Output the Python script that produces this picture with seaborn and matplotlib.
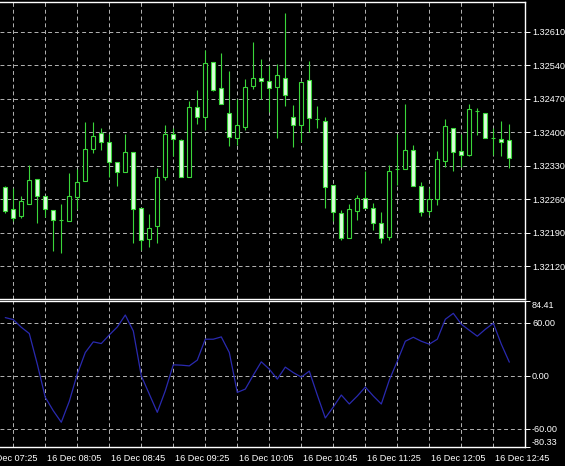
import numpy as np
import pandas as pd
import matplotlib
matplotlib.use('Agg')
import matplotlib.pyplot as plt
import matplotlib.transforms as mtransforms
import seaborn as sns

# M5 bars, 16 Dec 07:40 .. 12:55
bar_times = ['07:40', '07:45', '07:50', '07:55', '08:00', '08:05', '08:10', '08:15', '08:20', '08:25',
             '08:30', '08:35', '08:40', '08:45', '08:50', '08:55', '09:00', '09:05', '09:10', '09:15',
             '09:20', '09:25', '09:30', '09:35', '09:40', '09:45', '09:50', '09:55', '10:00', '10:05',
             '10:10', '10:15', '10:20', '10:25', '10:30', '10:35', '10:40', '10:45', '10:50', '10:55',
             '11:00', '11:05', '11:10', '11:15', '11:20', '11:25', '11:30', '11:35', '11:40', '11:45',
             '11:50', '11:55', '12:00', '12:05', '12:10', '12:15', '12:20', '12:25', '12:30', '12:35',
             '12:40', '12:45', '12:50', '12:55']

open_ = [1.32285, 1.32239, 1.32226, 1.32251, 1.32303, 1.32268, 1.32237, 1.32217, 1.32215, 1.32265,
         1.32299, 1.32365, 1.32399, 1.32380, 1.32337, 1.32317, 1.32358, 1.32241, 1.32178, 1.32205,
         1.32307, 1.32397, 1.32383, 1.32307, 1.32452, 1.32431, 1.32547, 1.32493, 1.32441, 1.32388,
         1.32411, 1.32497, 1.32514, 1.32508, 1.32495, 1.32514, 1.32432, 1.32415, 1.32510, 1.32428,
         1.32423, 1.32290, 1.32231, 1.32180, 1.32236, 1.32262, 1.32241, 1.32210, 1.32182, 1.32323,
         1.32324, 1.32364, 1.32288, 1.32236, 1.32260, 1.32340, 1.32410, 1.32362, 1.32352, 1.32445,
         1.32441, 1.32388, 1.32387, 1.32383]
high = [1.32288, 1.32283, 1.32268, 1.32331, 1.32303, 1.32268, 1.32237, 1.32250, 1.32316, 1.32324,
        1.32422, 1.32422, 1.32408, 1.32396, 1.32337, 1.32396, 1.32359, 1.32241, 1.32230, 1.32326,
        1.32416, 1.32410, 1.32385, 1.32465, 1.32489, 1.32571, 1.32547, 1.32566, 1.32529, 1.32470,
        1.32512, 1.32588, 1.32554, 1.32540, 1.32542, 1.32648, 1.32456, 1.32506, 1.32548, 1.32454,
        1.32431, 1.32290, 1.32237, 1.32250, 1.32269, 1.32319, 1.32253, 1.32234, 1.32331, 1.32396,
        1.32459, 1.32373, 1.32297, 1.32283, 1.32361, 1.32427, 1.32410, 1.32396, 1.32459, 1.32450,
        1.32441, 1.32408, 1.32423, 1.32418]
low = [1.32232, 1.32215, 1.32221, 1.32250, 1.32210, 1.32224, 1.32152, 1.32148, 1.32215, 1.32240,
       1.32299, 1.32356, 1.32363, 1.32306, 1.32288, 1.32317, 1.32169, 1.32154, 1.32161, 1.32168,
       1.32300, 1.32350, 1.32306, 1.32307, 1.32418, 1.32404, 1.32486, 1.32460, 1.32371, 1.32373,
       1.32404, 1.32491, 1.32470, 1.32442, 1.32389, 1.32454, 1.32369, 1.32379, 1.32401, 1.32410,
       1.32243, 1.32215, 1.32176, 1.32180, 1.32217, 1.32243, 1.32196, 1.32168, 1.32176, 1.32290,
       1.32324, 1.32288, 1.32226, 1.32227, 1.32248, 1.32328, 1.32319, 1.32328, 1.32350, 1.32395,
       1.32389, 1.32352, 1.32351, 1.32326]
close = [1.32236, 1.32222, 1.32256, 1.32301, 1.32268, 1.32239, 1.32217, 1.32217, 1.32268, 1.32297,
         1.32366, 1.32393, 1.32379, 1.32337, 1.32318, 1.32359, 1.32240, 1.32176, 1.32201, 1.32306,
         1.32397, 1.32387, 1.32306, 1.32452, 1.32431, 1.32545, 1.32489, 1.32460, 1.32390, 1.32416,
         1.32495, 1.32514, 1.32507, 1.32493, 1.32520, 1.32477, 1.32415, 1.32506, 1.32429, 1.32428,
         1.32285, 1.32233, 1.32179, 1.32239, 1.32262, 1.32243, 1.32210, 1.32179, 1.32319, 1.32323,
         1.32364, 1.32288, 1.32233, 1.32260, 1.32344, 1.32414, 1.32359, 1.32353, 1.32448, 1.32445,
         1.32389, 1.32388, 1.32380, 1.32347]

# oscillator (CCI-like) in the sub window
cci = [65.7, 63.4, 54.8, 47.7, 13.2, -24.3, -39.4, -52.4, -28.8, 1.9,
       26.3, 38.3, 36.4, 46.1, 55.1, 68.6, 50.6, 0.0, -20.6, -41.2,
       -16.9, 12.4, 12.0, 11.2, 17.7, 41.3, 41.3, 43.9, 26.3, -18.7,
       -15.0, 0.8, 15.8, 7.5, -3.7, 9.8, 3.6, -1.5, 5.3, -21.7,
       -47.6, -35.2, -21.7, -31.8, -22.8, -12.7, -22.8, -31.8, -4.8, 16.5,
       39.0, 43.5, 39.0, 35.7, 41.3, 63.8, 70.5, 58.2, 51.4, 44.7,
       52.5, 59.3, 35.7, 15.4]

time_labels = ['16 Dec 07:25', '16 Dec 08:05', '16 Dec 08:45', '16 Dec 09:25', '16 Dec 10:05',
               '16 Dec 10:45', '16 Dec 11:25', '16 Dec 12:05', '16 Dec 12:45']
price_ticks = [1.32120, 1.32190, 1.32260, 1.32330, 1.32400, 1.32470, 1.32540, 1.32610]
cci_ticks = [84.41, 60.00, 0.00, -60.00, -80.33]

df = pd.DataFrame({'time': pd.to_datetime(['2024-12-16 ' + t for t in bar_times]),
                   'open': open_, 'high': high, 'low': low, 'close': close, 'cci': cci})
df['x'] = np.arange(len(df))
t0 = df['time'].iloc[0]

green = '#3ad63a'
body_fill = '#dcffdc'
grid_col = '#b4b4b4'

sns.set_style('dark', {'axes.facecolor': 'black', 'figure.facecolor': 'black',
                       'axes.edgecolor': 'white', 'text.color': 'white',
                       'xtick.color': 'white', 'ytick.color': 'white'})
plt.rcParams['font.family'] = ['Liberation Sans', 'DejaVu Sans']

W, H = 565, 466
fig = plt.figure(figsize=(W / 100, H / 100), dpi=100)
fig.patch.set_facecolor('black')
ax1 = fig.add_axes([0, 1 - 299 / H, 525 / W, 297 / H])
ax2 = fig.add_axes([0, 1 - 447 / H, 525 / W, 146 / H])

# candles
up = df['close'] >= df['open']
ax1.vlines(df['x'], df['low'], df['high'], color=green, lw=0.8, zorder=2)
ax1.bar(df['x'], (df['close'] - df['open']).abs(), bottom=np.minimum(df['open'], df['close']),
        width=0.5, color=np.where(up, 'black', body_fill), edgecolor=green, linewidth=0.8, zorder=3)
ax1.set_ylim(1.32052, 1.32672)

# oscillator
sns.lineplot(data=df, x='x', y='cci', ax=ax2, color='#2a2ab0', lw=0.9, zorder=3)
ax2.set_ylim(-80.33, 84.41)
ax2.set_xlabel('')
ax2.set_ylabel('')

grid_x = np.arange(1, len(df), 4)
lab_min = [(pd.Timestamp('2024-12-16 ' + s[-5:]) - t0) / pd.Timedelta('5min') for s in time_labels]

for ax in (ax1, ax2):
    ax.set_xlim(-0.66, 64.96)
    ax.set_facecolor('black')
    ax.spines['left'].set_visible(False)
    for s in ('top', 'right', 'bottom'):
        ax.spines[s].set_color('white')
        ax.spines[s].set_linewidth(1.0)
    ax.set_xticks([v for v in lab_min if v >= 0])
    ax.set_xticks(grid_x, minor=True)
    ax.yaxis.tick_right()
    ax.tick_params(axis='y', which='major', direction='out', length=3.6, width=0.7,
                   colors='white', labelsize=6.6, pad=1.5)
    ax.tick_params(axis='x', which='both', labelbottom=False)
    ax.tick_params(axis='x', which='minor', length=0)
    ax.grid(True, which='both', axis='x', color=grid_col, lw=0.7, linestyle=(0, (4, 3)))
    ax.grid(True, which='major', axis='y', color=grid_col, lw=0.7, linestyle=(0, (4, 3)))
    ax.set_axisbelow(True)

ax1.tick_params(axis='x', which='major', length=0)
ax2.tick_params(axis='x', which='major', direction='out', length=3.6, width=0.7, colors='white')

ax1.set_yticks(price_ticks)
ax1.set_yticklabels([f'{v:.5f}' for v in price_ticks])

ax2.set_yticks(cci_ticks)
labs = ax2.set_yticklabels([f'{v:.2f}' for v in cci_ticks])
labs[0].set_va('top')
labs[-1].set_va('bottom')

# time labels, left aligned at their tick
trans = mtransforms.blended_transform_factory(ax2.transData, ax2.transAxes)
trans = mtransforms.offset_copy(trans, fig=fig, x=1.5, y=-11.5, units='dots')
for pos, lab in zip(lab_min, time_labels):
    ax2.text(pos, 0, lab, transform=trans, ha='left', va='center', color='white',
             fontsize=6.6, clip_on=False)

fig.savefig('out.png', dpi=100, facecolor='black')
